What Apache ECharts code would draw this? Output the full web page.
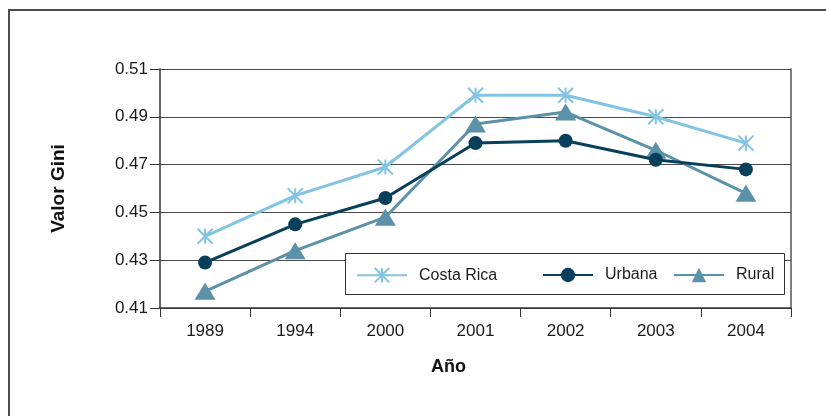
<!DOCTYPE html>
<html>
<head>
<meta charset="utf-8">
<script src="https://cdn.jsdelivr.net/npm/echarts@6/dist/echarts.min.js"></script>
<style>
  html, body { margin: 0; padding: 0; background: #fff; }
  #chart { width: 826px; height: 416px; }
</style>
</head>
<body>
<div id="chart"></div>
<script>
// Gini coefficient by year, national and by zone
const years = ['1989', '1994', '2000', '2001', '2002', '2003', '2004'];
const costaRica = [0.440, 0.457, 0.469, 0.499, 0.499, 0.490, 0.479];
const urbana = [0.429, 0.445, 0.456, 0.479, 0.480, 0.472, 0.468];
const rural = [0.417, 0.434, 0.448, 0.487, 0.492, 0.476, 0.458];
const seriesNames = ['Costa Rica', 'Urbana', 'Rural'];

const FONT = '"Liberation Sans", Arial, sans-serif';
const C_CR = '#82c4e4';
const C_URB = '#08405c';
const C_RUR = '#5b91a9';

// asterisk marker: vertical stroke plus two diagonals
const asterisk = 'path://M10,0 L10,20 M0,0 L20,20 M0,20 L20,0';

const chart = echarts.init(document.getElementById('chart'));

function legendAt(name, left) {
  return {
    data: [name],
    left: left,
    top: 267,
    padding: 0,
    itemWidth: 50,
    itemHeight: 18,
    selectedMode: false,
    textStyle: { fontFamily: FONT, fontSize: 16, color: '#1a1a1a', padding: [0, 0, 0, 7] }
  };
}

chart.setOption({
  animation: false,
  grid: { left: 160, right: 35, top: 69, bottom: 108 },
  graphic: [
    {
      type: 'rect',
      z: -10,
      shape: { x: 9, y: 10, width: 830, height: 420 },
      style: { fill: 'none', stroke: '#4d4d4d', lineWidth: 2 }
    },
    {
      type: 'rect',
      z: 1,
      shape: { x: 345.5, y: 253.5, width: 439, height: 41 },
      style: { fill: '#ffffff', stroke: '#333333', lineWidth: 1 }
    }
  ],
  legend: [
    legendAt(seriesNames[0], 356),
    legendAt(seriesNames[1], 542),
    legendAt(seriesNames[2], 673)
  ],
  xAxis: {
    type: 'category',
    data: years,
    boundaryGap: true,
    name: 'Año',
    nameLocation: 'middle',
    nameGap: 50,
    nameTextStyle: {
      fontFamily: FONT, fontSize: 18, fontWeight: 'bold', color: '#111',
      padding: [0, 54, 0, 0]
    },
    axisLine: { lineStyle: { color: '#333', width: 1.5 } },
    axisTick: { show: true, length: 9, lineStyle: { color: '#333', width: 1 } },
    axisLabel: { fontFamily: FONT, fontSize: 17, color: '#1a1a1a', margin: 15 }
  },
  yAxis: [
    {
      type: 'value',
      min: 0.41,
      max: 0.51,
      interval: 0.02,
      name: 'Valor Gini',
      nameLocation: 'middle',
      nameGap: 92,
      nameTextStyle: { fontFamily: FONT, fontSize: 19, fontWeight: 'bold', color: '#111' },
      axisLine: { show: true, lineStyle: { color: '#333', width: 1.5 } },
      axisTick: { show: true, length: 10, lineStyle: { color: '#333', width: 1 } },
      axisLabel: {
        fontFamily: FONT, fontSize: 17, color: '#1a1a1a', margin: 12,
        formatter: v => v.toFixed(2)
      },
      splitLine: { show: true, lineStyle: { color: '#4a4a4a', width: 1.2 } }
    },
    {
      type: 'value',
      position: 'right',
      min: 0.41,
      max: 0.51,
      interval: 0.02,
      axisLine: { show: true, lineStyle: { color: '#555', width: 1.5 } },
      axisTick: { show: false },
      axisLabel: { show: false },
      splitLine: { show: false }
    }
  ],
  series: [
    {
      name: seriesNames[0],
      type: 'line',
      data: costaRica,
      z: 3,
      symbol: asterisk,
      symbolSize: 15,
      lineStyle: { color: C_CR, width: 3 },
      itemStyle: { color: C_CR, borderColor: C_CR, borderWidth: 2 }
    },
    {
      name: seriesNames[1],
      type: 'line',
      data: urbana,
      z: 4,
      symbol: 'circle',
      symbolSize: 14,
      lineStyle: { color: C_URB, width: 3 },
      itemStyle: { color: C_URB }
    },
    {
      name: seriesNames[2],
      type: 'line',
      data: rural,
      z: 3,
      symbol: 'triangle',
      symbolSize: [21, 17],
      lineStyle: { color: C_RUR, width: 3 },
      itemStyle: { color: C_RUR }
    }
  ]
});
</script>
</body>
</html>
